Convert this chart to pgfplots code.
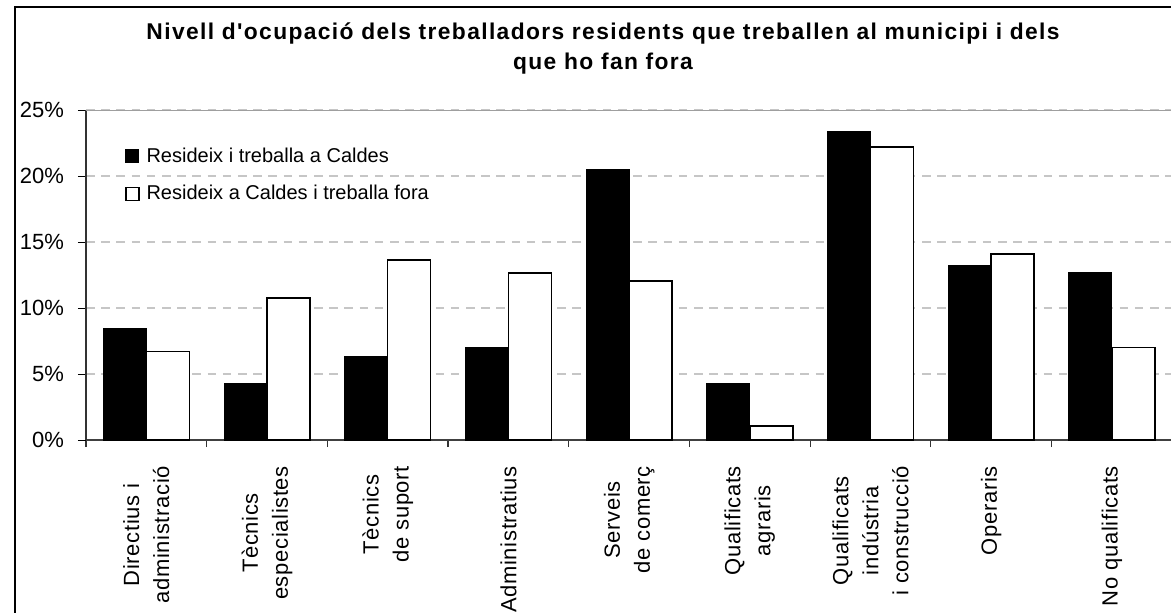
\documentclass[border=0pt]{standalone}
\usepackage{fontspec}
\setmainfont{Liberation Sans}[Ligatures=TeXOff]
\usepackage{pgfplots}
\pgfplotsset{compat=1.18}
\begin{document}
\begin{tikzpicture}
\begin{axis}[
  at={(0pt,0pt)}, anchor=south west,
  scale only axis,
  width=542.5pt, height=165pt,
  xmin=-0.5, xmax=8.49, ymin=0, ymax=25,
  ybar=0pt, bar width=21.5pt,
  axis x line*=bottom, axis y line*=left,
  axis line style={-},
  x axis line style={black!75, line width=1pt},
  y axis line style={black!80, line width=0.6pt},
  xtick={0,...,8},
  xticklabels={{Directius i\\administració},{Tècnics\\especialistes},{Tècnics\\de suport},{Administratius},{Serveis\\de comerç},{Qualificats\\agraris},{Qualificats\\indústria\\i construcció},{Operaris},{No qualificats}},
  major x tick style={draw=none},
  minor xtick={-0.5,0.5,...,8.5},
  minor x tick style={black!80, line width=0.6pt},
  tick align=outside,
  major tick length=4pt, minor tick length=3.5pt,
  ytick={0,5,...,25},
  y tick style={black, line width=0.5pt},
  /pgf/number format/assume math mode=true,
  yticklabel={\pgfmathprintnumber{\tick}\%},
  yticklabel style={font=\fontsize{11}{13}\selectfont},
  yticklabel shift=3.5pt,
  xticklabel style={rotate=90, anchor=east, align=center, font=\fontsize{11}{15}\selectfont\addfontfeatures{LetterSpace=3}},
  xticklabel shift=5.5pt,
  ymajorgrids,
  major grid style={gray!45, line width=1pt, dash pattern=on 4.3pt off 3.3pt},
  legend style={at={(axis description cs:0.0359,0.893)}, anchor=north west, draw=none, fill=none, inner sep=0pt, row sep=8pt, column sep=2.5pt, font=\fontsize{10}{12}\selectfont, nodes={inner sep=1pt}},
  legend cell align=left,
]
\addplot[fill=black, draw=black, line width=0.5pt,
  legend image code/.code={\draw[fill=black,draw=black,line width=0.5pt] (0pt,-3.25pt) rectangle (6.5pt,3.25pt);}]
  coordinates {(0,8.45) (1,4.3) (2,6.3) (3,7.0) (4,20.5) (5,4.25) (6,23.4) (7,13.25) (8,12.7)};
\addlegendentry{Resideix i treballa a Caldes}
\addplot[fill=white, draw=black, line width=0.75pt,
  legend image code/.code={\draw[fill=white,draw=black,line width=0.6pt] (0pt,-3.25pt) rectangle (6.5pt,3.25pt);}]
  coordinates {(0,6.7) (1,10.75) (2,13.65) (3,12.65) (4,12.05) (5,1.05) (6,22.2) (7,14.1) (8,7.0)};
\addlegendentry{Resideix a Caldes i treballa fora}
\draw[gray!75, line width=1pt] (rel axis cs:0,1) -- (rel axis cs:1,1);
\end{axis}
\node[anchor=base, font=\bfseries\fontsize{11.4}{12}\selectfont\addfontfeatures{LetterSpace=6}] at (258.5pt,200.35pt) {Nivell d'ocupació dels treballadors residents que treballen al municipi i dels};
\node[anchor=base, font=\bfseries\fontsize{11.4}{12}\selectfont\addfontfeatures{LetterSpace=6}] at (258.5pt,185.5pt) {que ho fan fora};
\draw[line width=1pt] (-35.5pt,-90pt) -- (-35.5pt,216.5pt) -- (560pt,216.5pt);
\pgfresetboundingbox
\path[use as bounding box] (-43pt,-86pt) rectangle (542.5pt,220pt);
\end{tikzpicture}
\end{document}
